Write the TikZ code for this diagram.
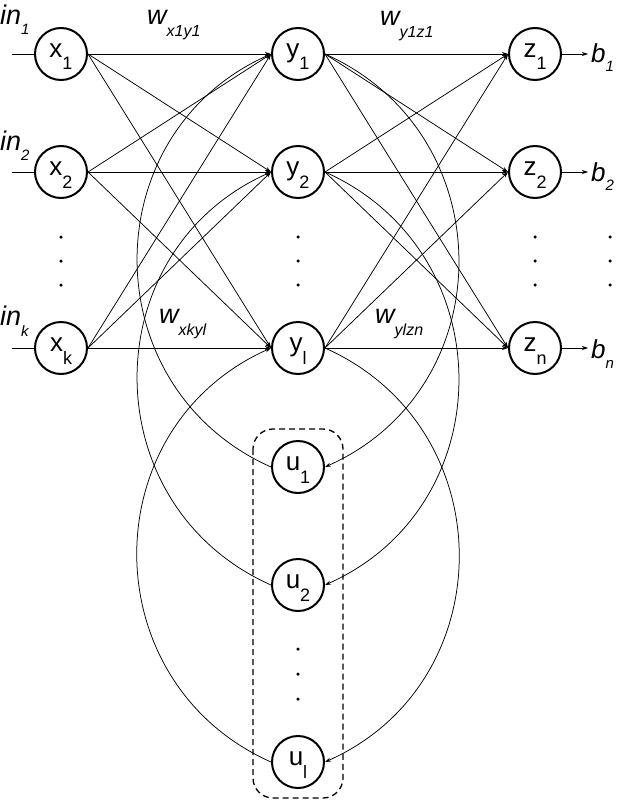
\documentclass[tikz,border=0pt]{standalone}
\usepackage{fontspec}
\setmainfont{Liberation Sans}
\usetikzlibrary{arrows.meta}
\newcommand{\neulab}[2]{\raisebox{-3pt}[0pt][0pt]{\fontsize{26}{26}\selectfont #1}\raisebox{-16pt}[0pt][0pt]{\fontsize{18}{18}\selectfont #2}}
\newcommand{\itlab}[5]{{\fontsize{#3}{#3}\selectfont\itshape #1}\raisebox{-#5}{\fontsize{#4}{#4}\selectfont\itshape #2}}
\begin{document}
\begin{tikzpicture}[x=1pt,y=1pt,
  neuron/.style={circle, draw, line width=2pt, minimum size=52pt, inner sep=0pt},
  conn/.style={line width=0.75pt, -{Stealth[length=6pt,width=4pt]}},
  plainline/.style={line width=0.75pt},
  lbl/.style={anchor=base west, inner sep=0pt},
  dotmark/.style={circle, fill, inner sep=0pt, minimum size=3.5pt}]
\useasboundingbox (0,0) rectangle (625,-800);

% neurons
\node[neuron] (x1) at (61,-54) {\neulab{x}{1}};
\node[neuron] (x2) at (61,-172) {\neulab{x}{2}};
\node[neuron] (xk) at (61,-348) {\neulab{x}{k}};
\node[neuron] (y1) at (298,-54) {\neulab{y}{1}};
\node[neuron] (y2) at (298,-172) {\neulab{y}{2}};
\node[neuron] (yl) at (298,-348) {\neulab{y}{l}};
\node[neuron] (z1) at (535,-54) {\neulab{z}{1}};
\node[neuron] (z2) at (535,-172) {\neulab{z}{2}};
\node[neuron] (zn) at (535,-348) {\neulab{z}{n}};
\node[neuron] (u1) at (298,-467) {\neulab{u}{1}};
\node[neuron] (u2) at (298,-585) {\neulab{u}{2}};
\node[neuron] (ul) at (298,-762) {\neulab{u}{l}};

% dashed context box
\draw[dashed, dash pattern=on 6pt off 4pt, line width=1.3pt, rounded corners=20pt] (253,-429) rectangle (343,-798);

% vertical dots
\foreach \xx in {61,298,535,610} {
  \foreach \yy in {237,261,285} {
    \node[dotmark] at (\xx,-\yy) {};
  }
}
\foreach \yy in {649,674,699} {
  \node[dotmark] at (298,-\yy) {};
}

% inputs
\coordinate (i1) at (12,-54);
\coordinate (i2) at (12,-172);
\coordinate (ik) at (12,-348);
\draw[plainline] (i1) -- (x1.west);
\draw[plainline] (i2) -- (x2.west);
\draw[plainline] (ik) -- (xk.west);

% outputs
\coordinate (o1) at (588,-54);
\coordinate (o2) at (588,-172);
\coordinate (on) at (588,-348);
\draw[conn] (z1.east) -- (o1);
\draw[conn] (z2.east) -- (o2);
\draw[conn] (zn.east) -- (on);

% x -> y
\foreach \a in {x1,x2,xk} {
  \foreach \c in {y1,y2,yl} {
    \draw[conn] (\a.east) -- (\c.west);
  }
}
% y -> z
\foreach \a in {y1,y2,yl} {
  \foreach \c in {z1,z2,zn} {
    \draw[conn] (\a.east) -- (\c.west);
  }
}

% recurrent arcs
\draw[conn] (u1.west) to[out=156,in=204,looseness=1.21] (y1.west);
\draw[conn] (u2.west) to[out=156,in=204,looseness=1.21] (y2.west);
\draw[conn] (ul.west) to[out=156,in=204,looseness=1.21] (yl.west);
\draw[conn] (y1.east) to[out=-24,in=24,looseness=1.21] (u1.east);
\draw[conn] (y2.east) to[out=-24,in=24,looseness=1.21] (u2.east);
\draw[conn] (yl.east) to[out=-24,in=24,looseness=1.21] (ul.east);

% labels
\node[lbl] (in1) at (0,-25) {\itlab{in}{1}{27}{15}{10pt}};
\node[lbl] (in2) at (0,-150) {\itlab{in}{2}{27}{15}{10pt}};
\node[lbl] (ink) at (0,-325) {\itlab{in}{k}{27}{15}{11pt}};
\node[lbl] (w1) at (147,-25) {\itlab{w}{x1y1}{27}{16}{12pt}};
\node[lbl] (w2) at (380,-26) {\itlab{w}{y1z1}{27}{16}{12pt}};
\node[lbl] (w3) at (159,-323) {\itlab{w}{xkyl}{27}{16}{12pt}};
\node[lbl] (w4) at (375,-323) {\itlab{w}{ylzn}{27}{16}{12pt}};
\node[lbl] (b1) at (591,-63) {\itlab{b}{1}{26}{15}{9pt}};
\node[lbl] (b2) at (591,-181) {\itlab{b}{2}{26}{15}{9pt}};
\node[lbl] (bn) at (591,-358) {\itlab{b}{n}{26}{15}{10pt}};
\end{tikzpicture}
\end{document}
